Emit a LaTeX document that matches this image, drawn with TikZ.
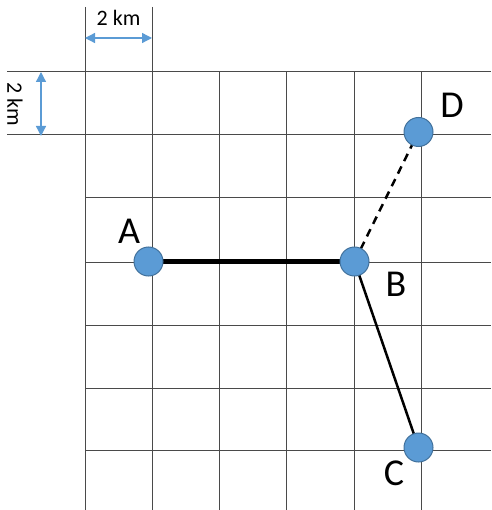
\documentclass[tikz,border=0pt]{standalone}
\usepackage{fontspec}
\setmainfont{Carlito}
\usetikzlibrary{arrows.meta,backgrounds}
\definecolor{ptblue}{HTML}{5B9BD5}
\definecolor{ptedge}{HTML}{41719C}
\definecolor{gridc}{HTML}{4A4A4A}
\tikzset{
  gridline/.style={draw=gridc,line width=1pt},
  ptnode/.style={circle,minimum size=29pt,inner sep=0pt,fill=ptblue,draw=ptedge,line width=1pt},
  lbl/.style={inner sep=0pt,font=\fontsize{38}{42}\selectfont},
  dimlbl/.style={inner sep=0pt,font=\fontsize{22}{26}\selectfont},
  dimarrow/.style={draw=ptblue,line width=1.3pt,{Triangle[length=10pt,width=10pt]}-{Triangle[length=10pt,width=10pt]}},
  thickline/.style={line width=4.5pt},
  thinline/.style={line width=2.5pt},
  dashline/.style={line width=2.5pt,dash pattern=on 8pt off 6pt}
}
\begin{document}
\begin{tikzpicture}[x=1pt,y=-1pt]
\useasboundingbox (0,0) rectangle (491,510);
% points
\node[ptnode] (A) at (148.5,261.5) {};
\node[ptnode] (B) at (354.5,261.5) {};
\node[ptnode] (D) at (418.5,132) {};
\node[ptnode] (C) at (418.5,447.5) {};
\begin{pgfonlayer}{background}
  % grid
  \foreach \x in {85,152,219,286,354,421} \draw[gridline] (\x,72) -- (\x,510);
  \draw[gridline] (85,7) -- (85,72);
  \draw[gridline] (152,7) -- (152,72);
  \foreach \y in {72,135,198,262,325,388,450} \draw[gridline] (85,\y) -- (491,\y);
  \draw[gridline] (7,72) -- (85,72);
  \draw[gridline] (7,135) -- (85,135);
  % connectors
  \draw[thickline] (A.center) -- (B.center);
  \draw[thinline] (B.center) -- (C.center);
  \draw[dashline] (B.center) -- (D.center);
\end{pgfonlayer}
% labels
\node[lbl] (lA) at (129,231) {A};
\node[lbl] (lB) at (396,284) {B};
\node[lbl] (lC) at (394,473) {C};
\node[lbl] (lD) at (452,105) {D};
% dimension arrows
\coordinate (h1) at (85,38);
\coordinate (h2) at (152,38);
\draw[dimarrow] (h1) -- (h2);
\node[dimlbl] (hl) at (118.5,18) {2 km};
\coordinate (v1) at (41,72);
\coordinate (v2) at (41,136);
\draw[dimarrow] (v1) -- (v2);
\node[dimlbl,rotate=-90] (vl) at (15,104) {2 km};
\end{tikzpicture}
\end{document}
